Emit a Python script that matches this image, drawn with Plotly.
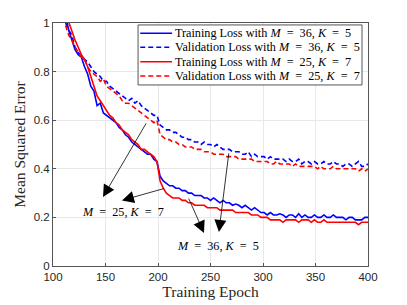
import plotly.graph_objects as go

epochs = list(range(112, 401, 3))

train_36_5 = [1.03, 0.97, 0.93, 0.89, 0.87, 0.86, 0.82, 0.79, 0.74, 0.72, 0.66, 0.67, 0.63, 0.62, 0.61,
              0.60, 0.59, 0.57, 0.56, 0.54, 0.53, 0.51, 0.50, 0.49, 0.48, 0.47, 0.46, 0.46, 0.44, 0.43,
              0.37, 0.35, 0.34, 0.33, 0.33, 0.32, 0.32, 0.31, 0.31, 0.30, 0.30, 0.29, 0.29, 0.29, 0.28,
              0.28, 0.27, 0.28, 0.27, 0.26, 0.27, 0.26, 0.26, 0.25, 0.255, 0.25, 0.24, 0.25, 0.24, 0.23,
              0.24, 0.23, 0.22, 0.22, 0.21, 0.22, 0.21, 0.21, 0.215, 0.21, 0.20, 0.21, 0.21, 0.20, 0.215,
              0.20, 0.21, 0.20, 0.20, 0.21, 0.20, 0.20, 0.21, 0.20, 0.20, 0.21, 0.20, 0.20, 0.20, 0.19,
              0.20, 0.20, 0.19, 0.19, 0.19, 0.20, 0.20]

val_36_5 = [1.0, 0.97, 0.95, 0.90, 0.88, 0.86, 0.85, 0.84, 0.82, 0.80, 0.79, 0.78, 0.76, 0.76, 0.74,
            0.73, 0.72, 0.71, 0.70, 0.69, 0.68, 0.69, 0.67, 0.68, 0.66, 0.65, 0.64, 0.63, 0.62, 0.62,
            0.58, 0.57, 0.56, 0.56, 0.55, 0.55, 0.54, 0.53, 0.53, 0.52, 0.52, 0.51, 0.51, 0.50, 0.51,
            0.50, 0.50, 0.49, 0.50, 0.49, 0.48, 0.48, 0.48, 0.47, 0.47, 0.47, 0.46, 0.46, 0.47, 0.45,
            0.46, 0.45, 0.45, 0.45, 0.44, 0.45, 0.44, 0.44, 0.44, 0.44, 0.43, 0.44, 0.43, 0.43, 0.44,
            0.42, 0.43, 0.43, 0.42, 0.43, 0.42, 0.42, 0.43, 0.42, 0.42, 0.43, 0.42, 0.42, 0.41, 0.42,
            0.42, 0.41, 0.42, 0.43, 0.41, 0.41, 0.42]

train_25_7 = [1.04, 1.0, 0.97, 0.93, 0.90, 0.87, 0.85, 0.82, 0.78, 0.74, 0.70, 0.68, 0.66, 0.64, 0.62,
              0.61, 0.59, 0.58, 0.56, 0.55, 0.54, 0.52, 0.51, 0.50, 0.48, 0.48, 0.47, 0.46, 0.45, 0.43,
              0.35, 0.32, 0.30, 0.29, 0.28, 0.28, 0.28, 0.27, 0.27, 0.26, 0.26, 0.25, 0.25, 0.25, 0.25,
              0.24, 0.24, 0.24, 0.24, 0.23, 0.23, 0.23, 0.23, 0.23, 0.22, 0.22, 0.22, 0.22, 0.22, 0.21,
              0.21, 0.21, 0.20, 0.20, 0.20, 0.19, 0.19, 0.19, 0.19, 0.18, 0.19, 0.19, 0.19, 0.19, 0.18,
              0.19, 0.19, 0.19, 0.18, 0.19, 0.18, 0.18, 0.19, 0.18, 0.18, 0.18, 0.18, 0.18, 0.18, 0.18,
              0.18, 0.18, 0.18, 0.17, 0.18, 0.18, 0.18]

val_25_7 = [0.99, 0.95, 0.93, 0.90, 0.88, 0.86, 0.85, 0.82, 0.80, 0.79, 0.78, 0.76, 0.77, 0.74, 0.73,
            0.72, 0.71, 0.70, 0.68, 0.67, 0.67, 0.66, 0.65, 0.64, 0.63, 0.62, 0.61, 0.60, 0.59, 0.60,
            0.54, 0.53, 0.52, 0.52, 0.51, 0.51, 0.50, 0.50, 0.49, 0.49, 0.49, 0.48, 0.48, 0.48, 0.47,
            0.47, 0.47, 0.46, 0.46, 0.46, 0.46, 0.45, 0.45, 0.45, 0.45, 0.44, 0.44, 0.44, 0.44, 0.44,
            0.43, 0.43, 0.43, 0.43, 0.43, 0.42, 0.42, 0.43, 0.42, 0.42, 0.42, 0.42, 0.41, 0.42, 0.41,
            0.41, 0.41, 0.41, 0.41, 0.41, 0.40, 0.41, 0.40, 0.40, 0.40, 0.41, 0.40, 0.40, 0.40, 0.40,
            0.40, 0.40, 0.40, 0.39, 0.40, 0.39, 0.40]

x_ticks = [100, 150, 200, 250, 300, 350, 400]
y_ticks = [0, 0.2, 0.4, 0.6, 0.8, 1]
y_tick_labels = ["0", "0.2", "0.4", "0.6", "0.8", "1"]

BLUE = "#0000ff"
RED = "#ff0000"
SERIF = "Liberation Serif, DejaVu Serif, serif"
SANS = "Liberation Sans, Arial, sans-serif"
DASH = "5px,3px"

NB = "\u00a0"
EQ = NB * 2 + "=" + NB * 2
COMMA = "," + NB


def mk(m, k):
    return f"<i>M</i>{EQ}{m}{COMMA}<i>K</i>{EQ}{k}"


fig = go.Figure()
series = [
    ("Training Loss with " + mk(36, 5), train_36_5, BLUE, "solid"),
    ("Validation Loss with " + mk(36, 5), val_36_5, BLUE, DASH),
    ("Training Loss with " + mk(25, 7), train_25_7, RED, "solid"),
    ("Validation Loss with " + mk(25, 7), val_25_7, RED, DASH),
]
for name, ys, col, dash in series:
    fig.add_trace(go.Scatter(x=epochs, y=ys, mode="lines", name=name, showlegend=False,
                             line=dict(color=col, width=1.6, dash=dash)))

# compact legend (box, sample lines, labels) in paper coordinates
LEG_X0, LEG_X1, LEG_Y0, LEG_Y1 = 0.270, 0.981, 0.745, 0.992
row_y = [0.9576, 0.900, 0.8407, 0.7819]
fig.add_shape(type="rect", xref="paper", yref="paper", x0=LEG_X0, x1=LEG_X1, y0=LEG_Y0, y1=LEG_Y1,
              line=dict(color="#555555", width=1), fillcolor="white", layer="above")
for (name, ys, col, dash), ry in zip(series, row_y):
    fig.add_shape(type="line", xref="paper", yref="paper", x0=0.277, x1=0.378, y0=ry, y1=ry,
                  line=dict(color=col, width=1.6, dash=dash), layer="above")
    fig.add_annotation(x=0.381, y=ry, xref="paper", yref="paper", xanchor="left", yanchor="middle",
                       showarrow=False, text=name, font=dict(family=SERIF, size=12.2, color="#000"))

arrows = [
    # (tail_x, tail_y, tip_x, tip_y)
    (189.5, 0.593, 147.6, 0.284),
    (206.7, 0.32, 165.7, 0.27),
    (228.6, 0.284, 243.8, 0.136),
    (267.6, 0.47, 258.0, 0.14),
]
for tx, ty, hx, hy in arrows:
    fig.add_annotation(x=hx, y=hy, ax=tx, ay=ty, xref="x", yref="y", axref="x", ayref="y",
                       showarrow=True, arrowhead=2, arrowsize=3, arrowwidth=0.8,
                       arrowcolor="#000000", text="")

fig.add_annotation(x=166.7, y=0.222, xref="x", yref="y", showarrow=False,
                   text=mk(25, 7), font=dict(family=SERIF, size=12.2, color="#000"))
fig.add_annotation(x=257, y=0.082, xref="x", yref="y", showarrow=False,
                   text=mk(36, 5), font=dict(family=SERIF, size=12.2, color="#000"))

axis_common = dict(showgrid=True, gridcolor="#e8e8e8", gridwidth=1, zeroline=False,
                   showline=True, linecolor="#555555", linewidth=1, mirror=True,
                   ticks="inside", ticklen=3, tickcolor="#555555",
                   tickfont=dict(family=SANS, size=11.5, color="#262626"))

fig.update_xaxes(range=[100, 400], tickvals=x_ticks,
                 title=dict(text="Training Epoch", font=dict(family=SERIF, size=15.5, color="#262626"),
                            standoff=0),
                 **axis_common)
fig.update_yaxes(range=[0, 1], tickvals=y_ticks, ticktext=y_tick_labels,
                 title=dict(text="Mean Squared Error", font=dict(family=SERIF, size=15.5, color="#262626"),
                            standoff=4),
                 **axis_common)

fig.update_layout(
    width=407, height=305,
    margin=dict(l=53, r=39, t=23, b=39),
    paper_bgcolor="white", plot_bgcolor="white",
    showlegend=False,
)

fig.write_html("out.html", config={"displayModeBar": False},
               post_script="document.body.style.margin='0';")
